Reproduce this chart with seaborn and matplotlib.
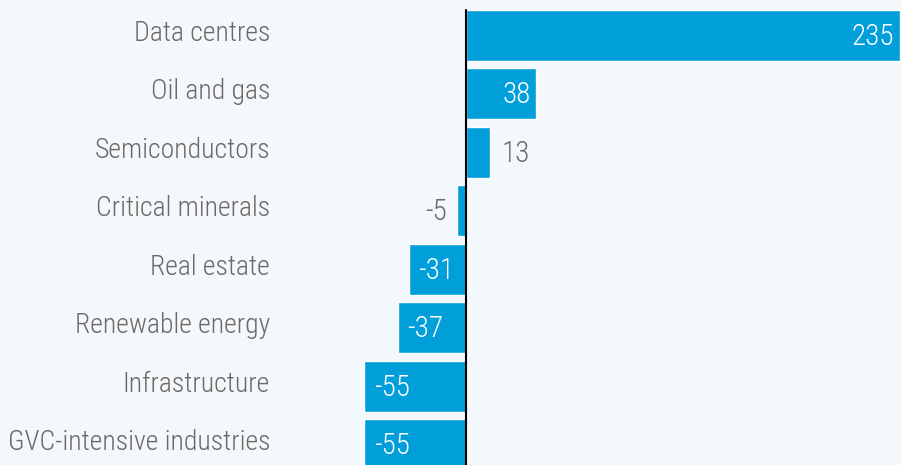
import pandas as pd
import matplotlib.pyplot as plt
import seaborn as sns
from matplotlib import font_manager, transforms

# data
categories = ['Data centres', 'Oil and gas', 'Semiconductors', 'Critical minerals',
              'Real estate', 'Renewable energy', 'Infrastructure', 'GVC-intensive industries']
values = [235, 38, 13, -5, -31, -37, -55, -55]

df = pd.DataFrame({'sector': categories, 'change': values})

bg = '#f3f8fc'
bar_color = '#009fda'
text_gray = '#6e6864'

sns.set_style('white')
names = {f.name for f in font_manager.fontManager.ttflist}
family = 'DejaVu Sans'
for cand in ['Roboto Condensed', 'Barlow Semi Condensed', 'Archivo Narrow', 'Asap Condensed']:
    if cand in names:
        family = cand
        break
plt.rcParams['font.family'] = [family, 'DejaVu Sans']
plt.rcParams['font.weight'] = 'light'

fig = plt.figure(figsize=(9.01, 4.65), dpi=100, facecolor=bg)
ax = fig.add_axes([300 / 901, 0, 601 / 901, 1])
ax.set_facecolor(bg)

sns.barplot(data=df, y='sector', x='change', orient='h', color=bar_color,
            width=0.87, saturation=1, ax=ax)

ax.set_xlim(-89.9, 235.6)
ax.set_ylim(7.345, -0.603)
ax.axvline(0, ymin=0, ymax=455 / 465, color='black', lw=1.5)

for s in ax.spines.values():
    s.set_visible(False)
ax.set_xticks([])
ax.set_xlabel('')
ax.set_ylabel('')
ax.tick_params(axis='y', length=0, pad=21.6, labelsize=20, labelcolor=text_gray)

# nudge category labels up a bit
shift = transforms.ScaledTranslation(0, 5 / 100, fig.dpi_scale_trans)
for lab in ax.get_yticklabels():
    lab.set_transform(lab.get_transform() + shift)
    lab.set_fontweight('light')

# value labels
for i, v in enumerate(values):
    if abs(v) >= 30:
        if v > 0:
            ax.annotate(str(v), (v, i), xytext=(-4, -1), textcoords='offset points',
                        ha='right', va='center', color='white', fontsize=21)
        else:
            ax.annotate(str(v), (v, i), xytext=(7, -1), textcoords='offset points',
                        ha='left', va='center', color='white', fontsize=21)
    else:
        if v > 0:
            ax.annotate(str(v), (v, i), xytext=(8, -1), textcoords='offset points',
                        ha='left', va='center', color=text_gray, fontsize=21)
        else:
            ax.annotate(str(v), (v, i), xytext=(-7, -1), textcoords='offset points',
                        ha='right', va='center', color=text_gray, fontsize=21)

plt.savefig('out.png', dpi=100, facecolor=bg)
